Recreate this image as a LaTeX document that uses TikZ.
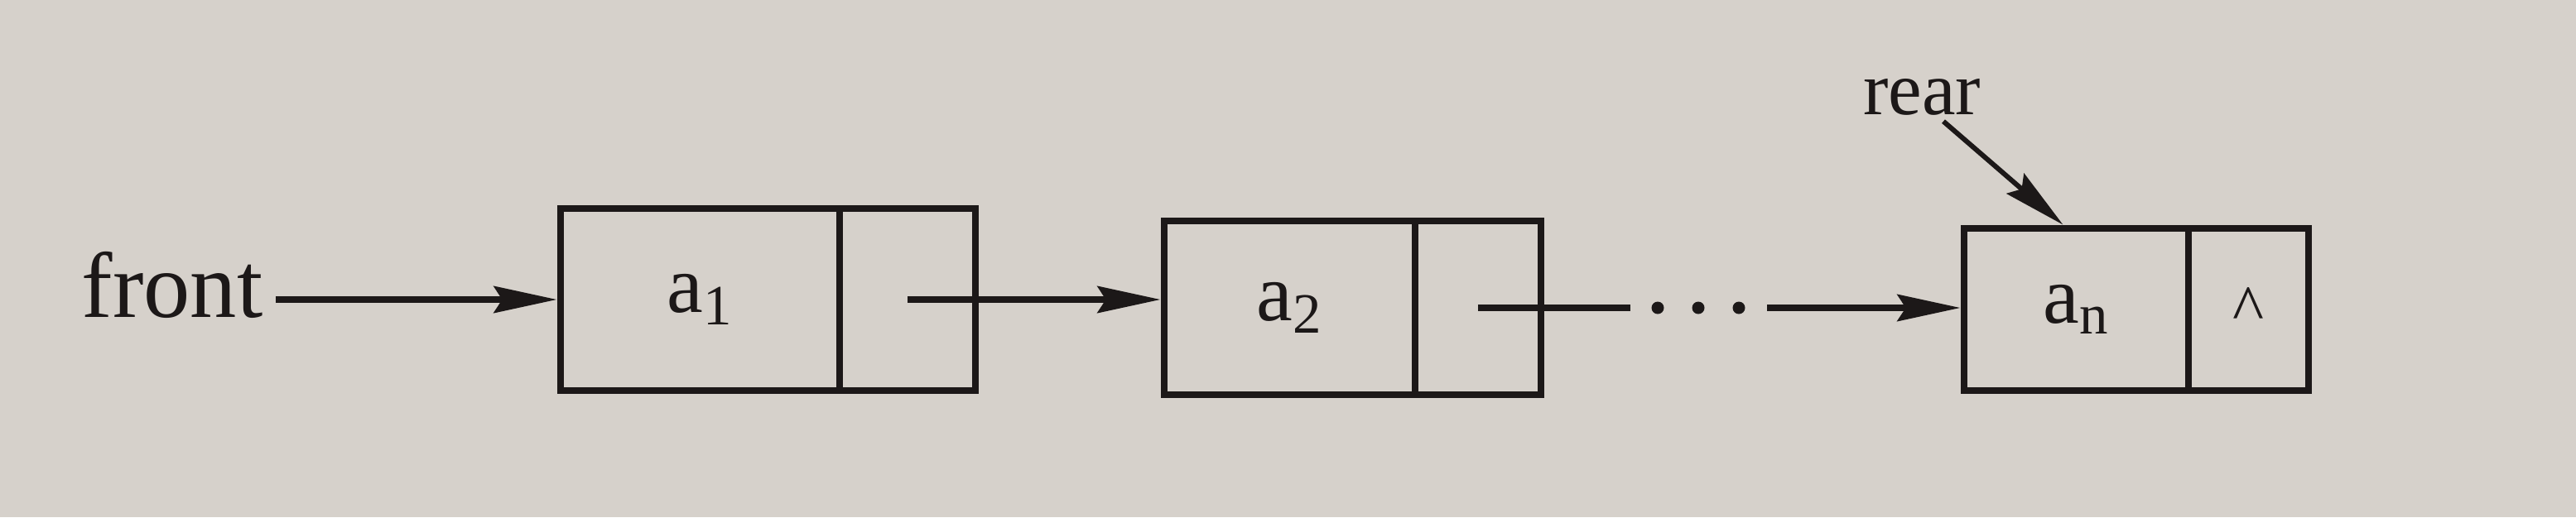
\documentclass[tikz,border=0pt]{standalone}
\usepackage{fontspec}
\setmainfont{Liberation Serif}
\usetikzlibrary{arrows.meta}
\definecolor{paper}{RGB}{214,209,203}
\definecolor{ink}{RGB}{28,24,24}

\begin{document}
\begin{tikzpicture}[
		cell/.style={draw=ink, line width=2.5pt, inner sep=0pt, font=\fontsize{28}{32}\selectfont, text=ink},
		link/.style={draw=ink, line width=2.3pt, -{Stealth[length=0.76cm, width=0.32cm, inset=0.1cm]}},
		wire/.style={draw=ink, line width=2.3pt},
		lbl/.style={text=ink, inner sep=2pt}
	]
		\fill[paper] (0, 0) rectangle (31.11, 6.25);
		\useasboundingbox (0, 0) rectangle (31.11, 6.25);
		\node[cell, minimum width=3.37cm, minimum height=2.2cm] (d1) at (8.455, 2.63) {a\textsubscript{1}};
		\node[cell, minimum width=1.64cm, minimum height=2.2cm] (p1) at (10.96, 2.63) {};
		\node[cell, minimum width=3.03cm, minimum height=2.1cm] (d2) at (15.575, 2.53) {a\textsubscript{2}};
		\node[cell, minimum width=1.52cm, minimum height=2.1cm] (p2) at (17.85, 2.53) {};
		\node[cell, minimum width=2.71cm, minimum height=1.96cm] (dn) at (25.075, 2.51) {a\textsubscript{n}};
		\node[cell, minimum width=1.45cm, minimum height=1.96cm, font=\fontsize{23}{26}\selectfont] (pn) at (27.155, 2.51) {\textasciicircum};
		\node[lbl, anchor=base, font=\fontsize{32}{36}\selectfont] (front) at (2.08, 2.42) {front};
		\node[lbl, anchor=base, font=\fontsize{26}{30}\selectfont] (rear) at (23.21, 4.87) {rear};
		\coordinate (gapl) at (19.69, 2.53);
		\coordinate (gapr) at (21.34, 2.53);
		\draw[link] ([xshift=0.08cm]front.east |- d1.west) -- (d1.west);
		\draw[link] (p1.center) -- (p1.center -| d2.west);
		\draw[wire] (p2.center) -- (gapl);
		\fill[ink] (20.02, 2.53) circle (0.075) (20.51, 2.53) circle (0.075) (21.00, 2.53) circle (0.075);
		\draw[link] (gapr) -- (gapr -| dn.west);
		\draw[link, line width=1.7pt] ([xshift=0.26cm]rear.south) -- ([xshift=-0.16cm]dn.north);
	\end{tikzpicture}
\end{document}
